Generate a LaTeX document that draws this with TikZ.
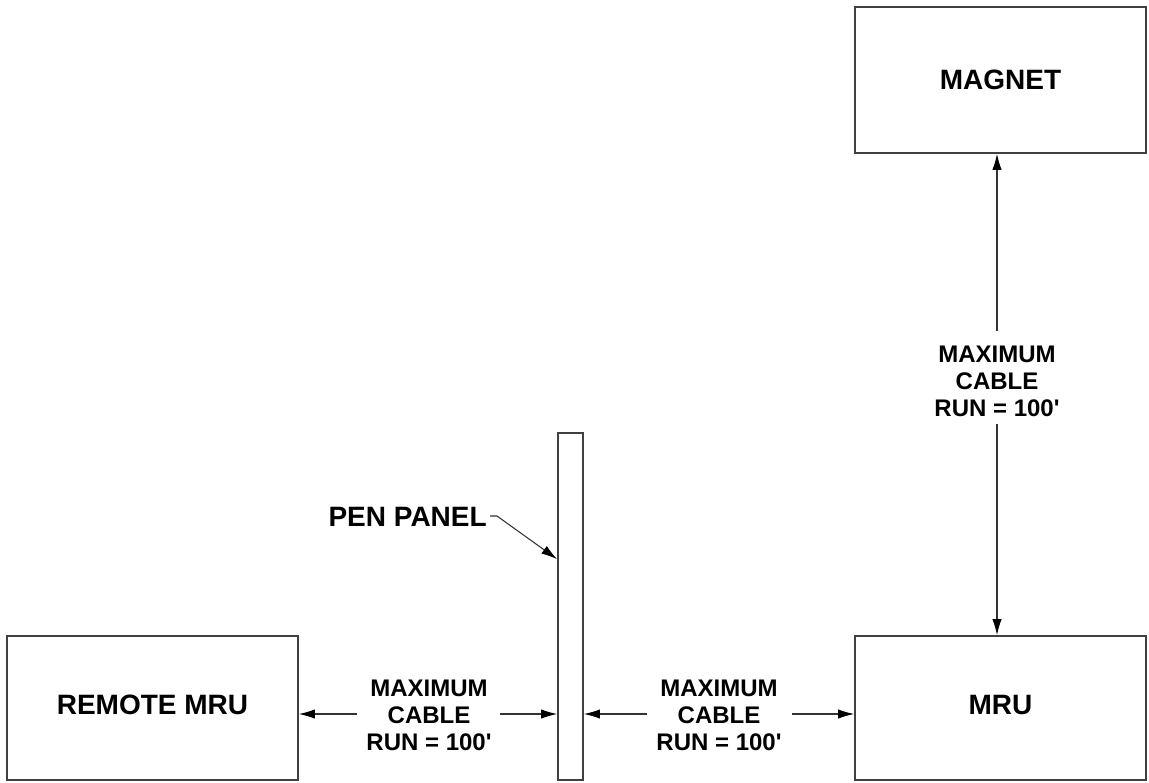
\documentclass[tikz,border=0pt]{standalone}
\usepackage{fontspec}
\setmainfont{Liberation Sans}
\usetikzlibrary{arrows.meta,calc}
\tikzset{
  box/.style={draw=black!75, line width=1.3pt, rectangle, inner sep=0pt,
    font=\bfseries\fontsize{21}{24}\selectfont},
  lab/.style={align=center, inner sep=0pt, font=\bfseries\fontsize{18}{20.25}\selectfont},
  conn/.style={draw=black!80, line width=0.8pt, -{Latex[length=12pt,width=7pt,color=black]}},
}
\newcommand{\runlabel}{MAXIMUM\\CABLE\\RUN = 100\textquotesingle}
\begin{document}
\begin{tikzpicture}[x=0.75pt,y=-0.75pt]
\useasboundingbox (0,0) rectangle (1149,782);
% boxes
\node[box, minimum width=291*0.75pt, minimum height=146*0.75pt] (magnet) at (1000.5,80) {MAGNET};
\node[box, minimum width=291*0.75pt, minimum height=144*0.75pt] (mru) at (1000.5,708) {};
\node[lab, font=\bfseries\fontsize{21}{24}\selectfont] (mrutext) at (1000.5,705) {MRU};
\node[box, minimum width=291*0.75pt, minimum height=144*0.75pt] (remote) at (152.5,708) {};
\node[lab, font=\bfseries\fontsize{21}{24}\selectfont] (remotetext) at (152.5,705) {REMOTE MRU};
\node[box, minimum width=25*0.75pt, minimum height=347*0.75pt] (pen) at (570.5,606.5) {};
% labels
\node[lab] (vlab) at (997,381) {\runlabel};
\node[lab] (llab) at (429,715) {\runlabel};
\node[lab] (rlab) at (719,715) {\runlabel};
\node[lab, font=\bfseries\fontsize{21}{24}\selectfont, anchor=east] (penlab) at (487,517) {PEN PANEL};
% vertical arrows
\coordinate (vtop) at ($(vlab.north)+(0,-14)$);
\coordinate (vbot) at ($(vlab.south)+(0,7)$);
\draw[conn] (vtop) -- (vtop |- magnet.south);
\draw[conn] (vbot) -- (vbot |- mru.north);
% horizontal arrows
\coordinate (ll) at (357,714);
\coordinate (lr) at (500,714);
\coordinate (rl) at (647,714);
\coordinate (rr) at (792,714);
\draw[conn] (ll) -- (ll -| remote.east);
\draw[conn] (lr) -- (lr -| pen.west);
\draw[conn] (rl) -- (rl -| pen.east);
\draw[conn] (rr) -- (rr -| mru.west);
% leader
\coordinate (pentip) at ($(pen.north west)+(0,127)$);
\draw[conn] ($(penlab.east)+(3,-1)$) -- ++(7,0) -- (pentip);
\end{tikzpicture}
\end{document}
